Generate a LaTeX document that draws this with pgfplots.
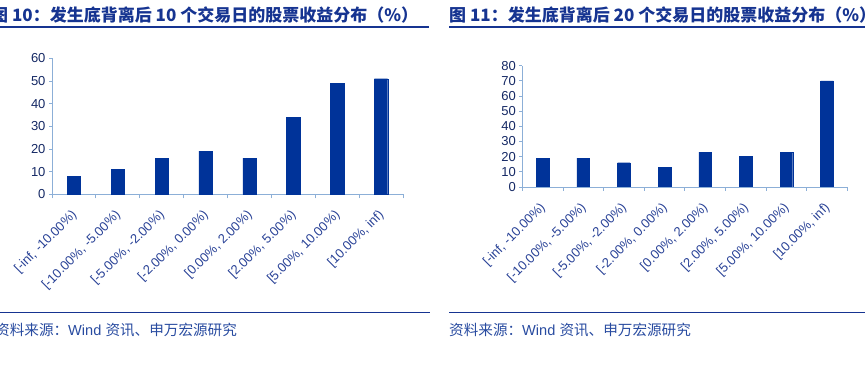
\documentclass[border=0pt]{standalone}
\usepackage{pgfplots}
\pgfplotsset{compat=1.18}
\usepackage{fontspec}
\setmainfont{Liberation Sans}
\newfontfamily\cjk{Noto Sans CJK SC}
\definecolor{barblue}{RGB}{0,51,153}
\definecolor{titleblue}{RGB}{22,52,145}
\definecolor{axisblue}{RGB}{140,175,215}
\definecolor{numnavy}{RGB}{20,40,100}
\definecolor{labblue}{RGB}{40,65,150}
\definecolor{footblue}{RGB}{40,75,160}
\newcommand{\foot}{{\cjk 资料来源：}Wind {\cjk 资讯、申万宏源研究}}
\begin{document}
\begin{tikzpicture}[x=1pt,y=1pt]
\useasboundingbox (0,0) rectangle (865,367);
% titles
\node[anchor=base west, inner sep=0pt, text=titleblue, font={\cjk\bfseries\fontsize{17}{19}\selectfont}] at (-9,345) {图 10：发生底背离后 10 个交易日的股票收益分布（\%）};
\node[anchor=base west, inner sep=0pt, text=titleblue, font={\cjk\bfseries\fontsize{17}{19}\selectfont}] at (449,345) {图 11：发生底背离后 20 个交易日的股票收益分布（\%）};
\draw[titleblue, line width=2pt] (0,340) -- (429,340);
\draw[titleblue, line width=2pt] (449,340) -- (865,340);
% footers
\draw[titleblue, line width=1pt] (0,54.7) -- (430,54.7);
\draw[titleblue, line width=1pt] (449,54.7) -- (865,54.7);
\node[anchor=base west, inner sep=0pt, text=footblue, font={\fontsize{14.6}{16}\selectfont}] at (-5,31) {\foot};
\node[anchor=base west, inner sep=0pt, text=footblue, font={\fontsize{14.6}{16}\selectfont}] at (449,31) {\foot};
\pgfplotsset{
  mystyle/.style={
    scale only axis,
    anchor=south west,
    xmin=-0.5, xmax=7.5, ymin=0,
    xtick={0,...,7},
    xticklabels={{[-inf, -10.00\%)},{[-10.00\%, -5.00\%)},{[-5.00\%, -2.00\%)},{[-2.00\%, 0.00\%)},{[0.00\%, 2.00\%)},{[2.00\%, 5.00\%)},{[5.00\%, 10.00\%)},{[10.00\%, inf)}},
    minor xtick={-0.5,0.5,...,7.5},
    axis lines*=left,
    axis line style={draw=axisblue, line width=0.8pt, -},
    major x tick style={draw=none},
    minor tick style={draw=axisblue, line width=0.8pt},
    major tick style={draw=axisblue, line width=0.8pt},
    minor tick length=4pt, major tick length=3pt,
    tick align=outside,
    /pgf/number format/assume math mode=true,
    x tick label style={xshift=-3.5pt, yshift=-10pt, rotate=45, anchor=north east, font=\fontsize{13}{15}\selectfont, text=labblue, inner sep=1pt},
    y tick label style={font=\fontsize{13}{15}\selectfont, text=numnavy},
    ybar,
  }
}
\begin{axis}[mystyle, at={(52pt,172.7pt)}, width=351pt, height=136pt, ymax=60, ytick={0,10,...,60}, bar width=13.3pt]
\addplot[fill=barblue, draw=barblue] coordinates {(0,8) (1,11) (2,16) (3,19) (4,16) (5,34) (6,49) (7,51)};
\end{axis}
\begin{axis}[mystyle, at={(522.3pt,180pt)}, width=325pt, height=121.3pt, ymax=80, ytick={0,10,...,80}, bar width=12.7pt]
\addplot[fill=barblue, draw=barblue] coordinates {(0,19) (1,19) (2,16) (3,13) (4,23) (5,20) (6,23) (7,70)};
\end{axis}
\end{tikzpicture}
\end{document}
